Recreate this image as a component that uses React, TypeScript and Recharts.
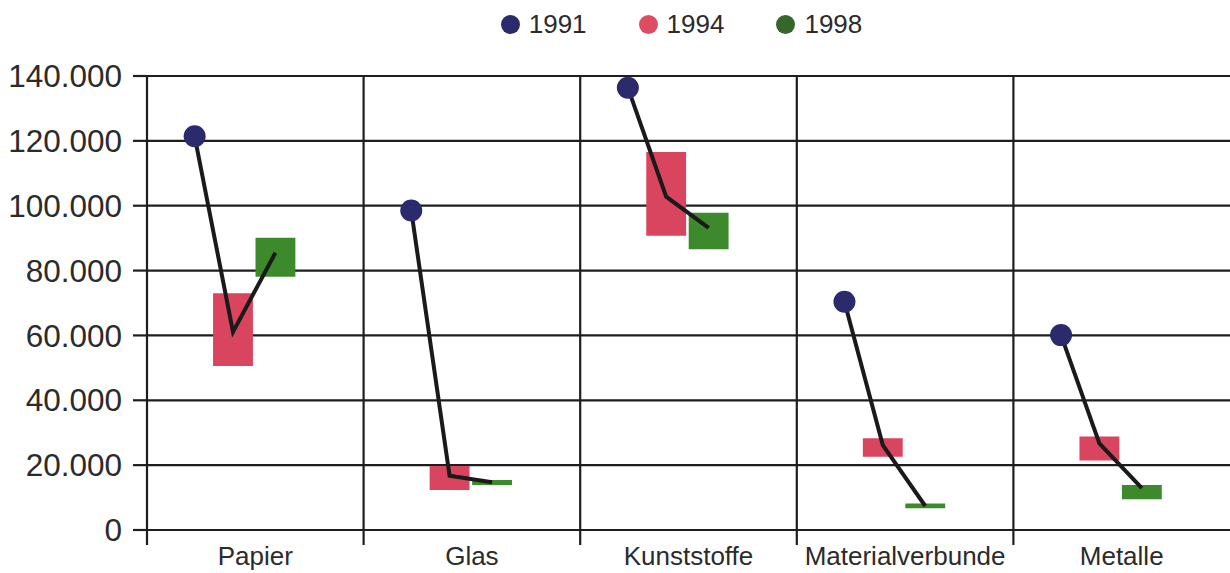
import { ComposedChart, XAxis, YAxis, CartesianGrid, Line, Scatter, ReferenceArea, ReferenceLine } from 'recharts'

// Verpackungsabfälle nach Material, Werte in t
const categories = ['Papier', 'Glas', 'Kunststoffe', 'Materialverbunde', 'Metalle']
const years = ['1991', '1994', '1998']

const value1991 = [121400, 98500, 136400, 70400, 60100]
const value1994 = [61100, 16700, 102800, 26200, 26700]
const low1994 = [50600, 12300, 90700, 22600, 21400]
const high1994 = [73000, 19700, 116600, 28300, 28800]
const value1998 = [85500, 14700, 93200, 7400, 12900]
const low1998 = [78100, 13900, 86600, 6700, 9500]
const high1998 = [90100, 15400, 97800, 8200, 13900]

const yTicks = [0, 20000, 40000, 60000, 80000, 100000, 120000, 140000]

const COLORS: Record<string, string> = { '1991': '#2a2a6c', '1994': '#d9445f', '1998': '#3c8a2b' }
const LEGEND_COLORS: Record<string, string> = { '1991': '#2a2a6c', '1994': '#de4c64', '1998': '#33682a' }
const INK = '#1e1e1e'
const TEXT = '#2b2b2b'
const FONT = '"Liberation Sans", Arial, Helvetica, sans-serif'

// position inside a category (0..1)
const POS_1991 = 0.22
const POS_1994 = 0.397
const POS_1998 = 0.593
const BOX = 0.184

const lineData = categories.flatMap((_, i) => [
  { x: i + POS_1991, v: value1991[i] },
  { x: i + POS_1994, v: value1994[i] },
  { x: i + POS_1998, v: value1998[i] },
  { x: i + 0.9, v: null },
])
const dots = categories.map((_, i) => ({ x: i + POS_1991, v: value1991[i] }))

const xTicks = [0, 0.5, 1, 1.5, 2, 2.5, 3, 3.5, 4, 4.5, 5]

const fmt = (v: number) => (v === 0 ? '0' : v.toLocaleString('de-DE'))

function CategoryTick({ x = 0, y = 0, payload }: any) {
  const v = payload?.value as number
  if (Number.isInteger(v)) {
    if (v >= categories.length) return <g />
    return <line x1={x} x2={x} y1={y} y2={y + 15} stroke={INK} strokeWidth={2.2} />
  }
  return (
    <text x={x} y={y + 35} textAnchor="middle" fill={TEXT} fontSize={26} fontFamily={FONT}>
      {categories[Math.floor(v)]}
    </text>
  )
}

export default function App() {
  return (
    <div style={{ position: 'absolute', left: 0, top: 0, width: 1230, height: 573, background: '#fff', fontFamily: FONT }}>
      <div
        style={{
          position: 'absolute',
          left: 140,
          width: 1083,
          top: 9,
          display: 'flex',
          justifyContent: 'center',
          gap: 52,
          fontSize: 26,
          color: TEXT,
          lineHeight: '30px',
        }}
      >
        {years.map((y) => (
          <div key={y} style={{ display: 'flex', alignItems: 'center', gap: 9 }}>
            <span style={{ width: 19, height: 19, borderRadius: '50%', background: LEGEND_COLORS[y], display: 'inline-block' }} />
            <span>{y}</span>
          </div>
        ))}
      </div>
      <ComposedChart width={1230} height={573} data={lineData} margin={{ top: 76, right: 0, bottom: 0, left: 0 }}>
        <CartesianGrid vertical={false} stroke={INK} strokeWidth={2.2} />
        <XAxis
          type="number"
          dataKey="x"
          domain={[0, 5]}
          ticks={xTicks}
          interval={0}
          height={43}
          tickSize={0}
          tickMargin={0}
          tickLine={false}
          axisLine={{ stroke: INK, strokeWidth: 2.2 }}
          tick={<CategoryTick />}
        />
        <YAxis
          type="number"
          domain={[0, 140000]}
          ticks={yTicks}
          width={147}
          tickSize={14}
          tickMargin={11}
          tickFormatter={fmt}
          axisLine={{ stroke: INK, strokeWidth: 2.2 }}
          tickLine={{ stroke: INK, strokeWidth: 2.2 }}
          tick={{ fill: TEXT, fontSize: 31.5, fontFamily: FONT }}
        />
        {[1, 2, 3, 4].map((b) => (
          <ReferenceLine key={b} x={b} stroke={INK} strokeWidth={2.2} />
        ))}
        {categories.map((c, i) => (
          <ReferenceArea
            key={'r' + c}
            x1={i + POS_1994 - BOX / 2}
            x2={i + POS_1994 + BOX / 2}
            y1={low1994[i]}
            y2={high1994[i]}
            fill={COLORS['1994']}
            fillOpacity={1}
            stroke="none"
          />
        ))}
        {categories.map((c, i) => (
          <ReferenceArea
            key={'g' + c}
            x1={i + POS_1998 - BOX / 2}
            x2={i + POS_1998 + BOX / 2}
            y1={low1998[i]}
            y2={high1998[i]}
            fill={COLORS['1998']}
            fillOpacity={1}
            stroke="none"
          />
        ))}
        <Line
          type="linear"
          dataKey="v"
          stroke="#1a1a1a"
          strokeWidth={4}
          dot={false}
          activeDot={false}
          connectNulls={false}
          isAnimationActive={false}
        />
        <Scatter
          data={dots}
          dataKey="v"
          isAnimationActive={false}
          shape={(p: any) => <circle cx={p.cx} cy={p.cy} r={11} fill={COLORS['1991']} />}
        />
      </ComposedChart>
    </div>
  )
}
